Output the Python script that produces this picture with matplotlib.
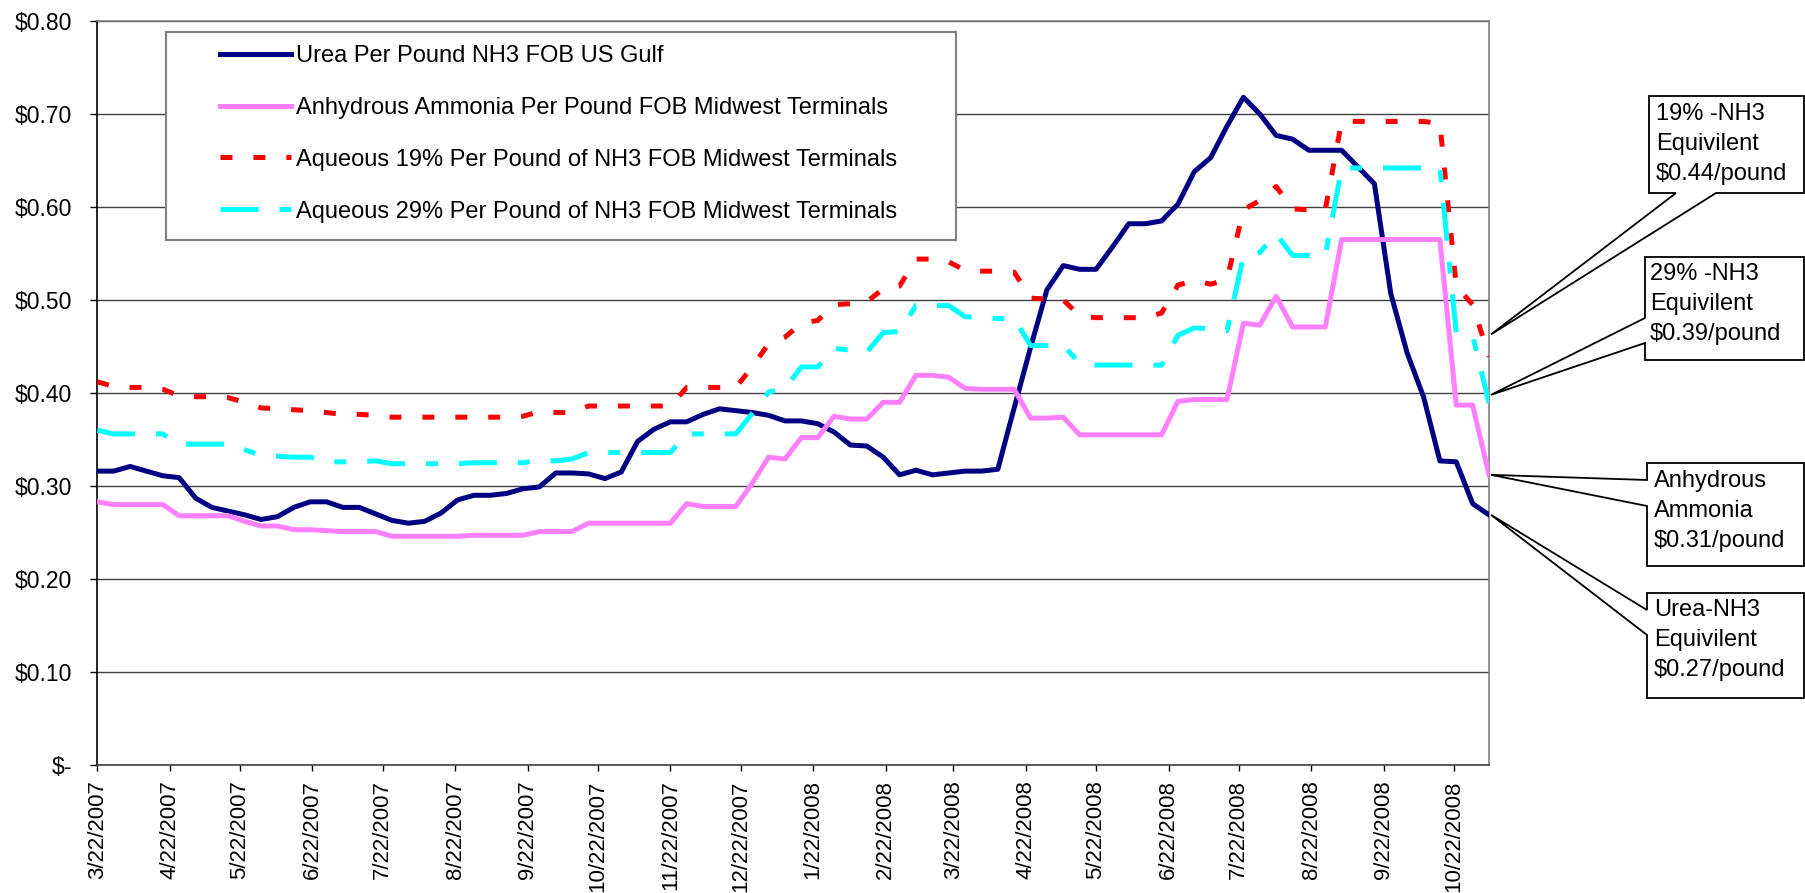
import matplotlib
matplotlib.use('Agg')
import matplotlib.pyplot as plt
from matplotlib.patches import Polygon, Rectangle
from matplotlib.ticker import FuncFormatter
import numpy as np
import pandas as pd

plt.rcParams['font.family'] = ['Liberation Sans', 'DejaVu Sans']
plt.rcParams['lines.scale_dashes'] = False

# weekly prices, $ per pound of NH3
weeks = pd.date_range('2007-03-22', periods=86, freq='7D')

urea = [0.316, 0.316, 0.321, 0.316, 0.311, 0.309, 0.287, 0.277, 0.273, 0.269,
        0.264, 0.267, 0.277, 0.283, 0.283, 0.277, 0.277, 0.270, 0.263, 0.260,
        0.262, 0.271, 0.285, 0.290, 0.290, 0.292, 0.297, 0.299, 0.314, 0.314,
        0.313, 0.308, 0.315, 0.348, 0.361, 0.369, 0.369, 0.377, 0.383, 0.381,
        0.379, 0.376, 0.370, 0.370, 0.367, 0.358, 0.344, 0.343, 0.331, 0.312,
        0.317, 0.312, 0.314, 0.316, 0.316, 0.318, 0.384, 0.449, 0.511, 0.537,
        0.533, 0.533, 0.557, 0.582, 0.582, 0.585, 0.603, 0.638, 0.653, 0.687,
        0.718, 0.700, 0.677, 0.673, 0.661, 0.661, 0.661, 0.643, 0.625, 0.507,
        0.443, 0.396, 0.327, 0.326, 0.281, 0.269]

anhydrous = [0.283, 0.280, 0.280, 0.280, 0.280, 0.268, 0.268, 0.268, 0.268, 0.262,
             0.257, 0.257, 0.253, 0.253, 0.252, 0.251, 0.251, 0.251, 0.246, 0.246,
             0.246, 0.246, 0.246, 0.247, 0.247, 0.247, 0.247, 0.251, 0.251, 0.251,
             0.260, 0.260, 0.260, 0.260, 0.260, 0.260, 0.281, 0.278, 0.278, 0.278,
             0.303, 0.331, 0.329, 0.352, 0.352, 0.375, 0.372, 0.372, 0.390, 0.390,
             0.419, 0.419, 0.417, 0.405, 0.404, 0.404, 0.404, 0.373, 0.373, 0.374,
             0.355, 0.355, 0.355, 0.355, 0.355, 0.355, 0.391, 0.393, 0.393, 0.393,
             0.475, 0.473, 0.504, 0.471, 0.471, 0.471, 0.565, 0.565, 0.565, 0.565,
             0.565, 0.565, 0.565, 0.387, 0.387, 0.312]

aq19 = [0.412, 0.407, 0.406, 0.406, 0.404, 0.397, 0.396, 0.396, 0.395, 0.390,
        0.384, 0.383, 0.382, 0.381, 0.379, 0.377, 0.377, 0.376, 0.374, 0.374,
        0.374, 0.374, 0.374, 0.374, 0.374, 0.374, 0.375, 0.380, 0.379, 0.379,
        0.386, 0.386, 0.386, 0.386, 0.386, 0.386, 0.406, 0.406, 0.406, 0.406,
        0.428, 0.453, 0.460, 0.475, 0.478, 0.495, 0.496, 0.498, 0.512, 0.515,
        0.544, 0.544, 0.541, 0.532, 0.531, 0.531, 0.530, 0.502, 0.501, 0.500,
        0.483, 0.481, 0.481, 0.481, 0.481, 0.486, 0.516, 0.521, 0.517, 0.522,
        0.597, 0.607, 0.622, 0.598, 0.597, 0.597, 0.692, 0.692, 0.692, 0.692,
        0.692, 0.692, 0.690, 0.515, 0.495, 0.439]

aq29 = [0.360, 0.356, 0.356, 0.356, 0.356, 0.345, 0.345, 0.345, 0.345, 0.339,
        0.333, 0.332, 0.331, 0.331, 0.326, 0.326, 0.326, 0.327, 0.324, 0.324,
        0.324, 0.324, 0.324, 0.325, 0.325, 0.325, 0.325, 0.328, 0.327, 0.329,
        0.336, 0.336, 0.336, 0.336, 0.336, 0.336, 0.356, 0.356, 0.356, 0.356,
        0.378, 0.401, 0.405, 0.428, 0.428, 0.448, 0.446, 0.444, 0.465, 0.466,
        0.494, 0.494, 0.494, 0.482, 0.481, 0.480, 0.480, 0.451, 0.451, 0.451,
        0.432, 0.430, 0.430, 0.430, 0.430, 0.430, 0.462, 0.470, 0.469, 0.467,
        0.547, 0.551, 0.571, 0.548, 0.548, 0.548, 0.642, 0.642, 0.642, 0.642,
        0.642, 0.642, 0.642, 0.465, 0.462, 0.389]

series_names = ['Urea Per Pound NH3 FOB US Gulf',
                'Anhydrous Ammonia Per Pound FOB Midwest Terminals',
                'Aqueous 19% Per Pound of NH3 FOB Midwest Terminals',
                'Aqueous 29% Per Pound of NH3 FOB Midwest Terminals']

month_ticks = pd.date_range('2007-03-22', '2008-10-22', freq=pd.DateOffset(months=1))

callout_texts = ['19% -NH3\nEquivilent\n$0.44/pound',
                 '29% -NH3\nEquivilent\n$0.39/pound',
                 'Anhydrous\nAmmonia\n$0.31/pound',
                 'Urea-NH3\nEquivilent\n$0.27/pound']
callout_tips = [0.463, 0.398, 0.312, 0.269]

W, H = 1806, 893
FS = 17

fig = plt.figure(figsize=(W / 100, H / 100), dpi=100)
ax = fig.add_axes([97.3 / W, 1 - 765 / H, (1489 - 97.3) / W, (765 - 21) / H])

ax.plot(weeks, urea, color='#000080', lw=3.6, label=series_names[0], zorder=3)
ax.plot(weeks, anhydrous, color='#FF80FF', lw=3.6, label=series_names[1], zorder=3)
ax.plot(weeks, aq19, color='#FF0000', lw=3.6, dashes=(8.6, 15.1),
        dash_capstyle='butt', label=series_names[2], zorder=3)
ax.plot(weeks, aq29, color='#00FFFF', lw=3.6, dashes=(27.4, 15.1, 8.6, 15.1),
        dash_capstyle='butt', label=series_names[3], zorder=3)

ax.set_xlim(weeks[0], weeks[-1])
ax.set_ylim(0, 0.8)
ax.set_yticks(np.arange(0, 0.81, 0.1))
ax.yaxis.set_major_formatter(FuncFormatter(lambda v, p: '$-' if abs(v) < 1e-9 else f'${v:.2f}'))
ax.set_xticks(month_ticks)
ax.set_xticklabels([f'{d.month}/{d.day}/{d.year}' for d in month_ticks], rotation=90,
                   va='top', fontsize=16)
ax.tick_params(axis='y', length=5, width=1, pad=13.5, labelsize=16.5, direction='out')
ax.tick_params(axis='x', length=4, width=1, pad=7, direction='out')

ax.yaxis.grid(True, color='#404040', lw=1.0)
ax.set_axisbelow(True)
for s in ['top', 'right']:
    ax.spines[s].set_color('#808080')
    ax.spines[s].set_linewidth(1.2)
ax.spines['left'].set_color('black')
ax.spines['bottom'].set_color('#404040')
ax.spines['left'].set_linewidth(1.2)
ax.spines['bottom'].set_linewidth(1.2)

# legend box with white face over the gridlines
ax.add_patch(Rectangle((166 / W, 1 - 240 / H), (956 - 166) / W, (240 - 32) / H,
                       transform=fig.transFigure, fc='white', ec='#808080', lw=1.5, zorder=4))
leg = ax.legend(loc='upper left', bbox_to_anchor=(220 / W, 1 - 45 / H),
                bbox_transform=fig.transFigure, frameon=False, fontsize=FS,
                handlelength=3.0, handletextpad=0.2, labelspacing=1.265,
                borderpad=0, borderaxespad=0)
leg.set_zorder(5)

# callouts on the right
fig.canvas.draw()
tip_x = ax.transData.transform((matplotlib.dates.date2num(weeks[-1]), 0))[0] + 2
boxes = [(1649, 96, 193, 'bottom', (1676, 1716)),
         (1645, 257, 360, 'left', (318, 343)),
         (1647, 463, 566, 'left', (480, 506)),
         (1647, 593, 698, 'left', (610, 635))]
text_x = [1656, 1650, 1654, 1654]
first_line = [111.7, 272, 479.3, 608.3]
x1 = 1804

def fpt(x, y):
    return (x / W, 1 - y / H)

for i, (x0, y0, y1, side, (a, b)) in enumerate(boxes):
    tip_y = H - ax.transData.transform((0, callout_tips[i]))[1]
    tip = (tip_x, tip_y)
    if side == 'bottom':
        pts = [(x0, y0), (x1, y0), (x1, y1), (b, y1), tip, (a, y1), (x0, y1)]
    else:
        pts = [(x0, y0), (x1, y0), (x1, y1), (x0, y1), (x0, b), tip, (x0, a)]
    fig.add_artist(Polygon([fpt(*p) for p in pts], closed=True, transform=fig.transFigure,
                           fc='white', ec='black', lw=1.3))
    for j, line in enumerate(callout_texts[i].split('\n')):
        fig.text(text_x[i] / W, 1 - (first_line[i] + 30 * j + 8) / H, line,
                 fontsize=FS, va='baseline', ha='left')

fig.savefig('out.png', dpi=100)
